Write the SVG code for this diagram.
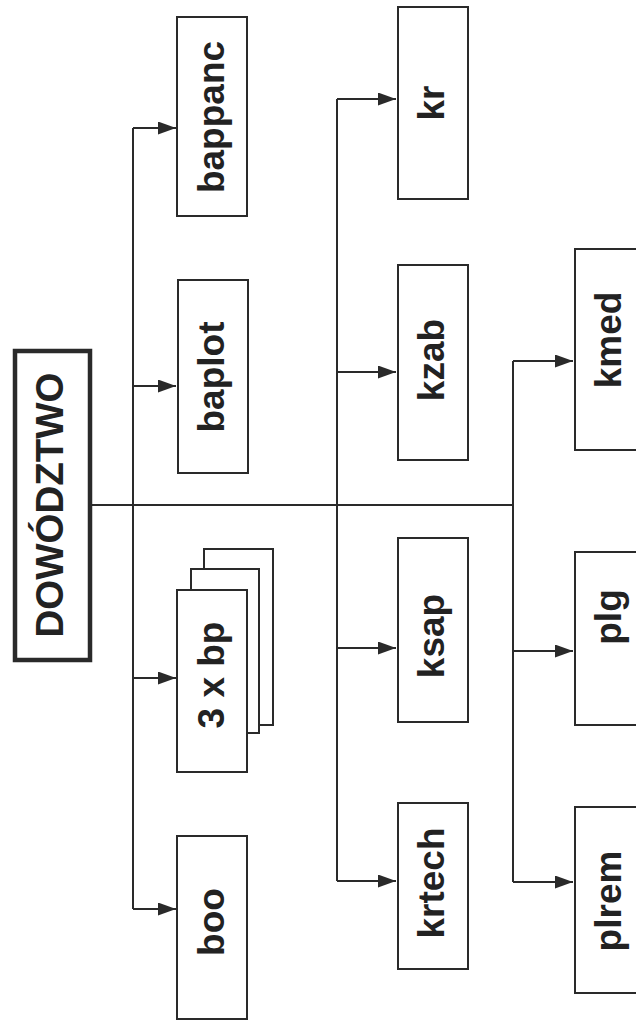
<svg xmlns="http://www.w3.org/2000/svg" width="636" height="1023" viewBox="0 0 636 1023">
<style>
.box{fill:#fff;stroke:#2a2a2a;stroke-width:2}
.main{fill:#fff;stroke:#2a2a2a;stroke-width:4.5}
.ln{fill:none;stroke:#2a2a2a;stroke-width:2}
.t{font-family:"Liberation Sans",Arial,sans-serif;font-weight:bold;font-size:37px;fill:#222;text-anchor:middle}
.tm{font-family:"Liberation Sans",Arial,sans-serif;font-weight:bold;font-size:39px;fill:#222;text-anchor:middle}
</style>
<defs>
<marker id="ah" markerWidth="18" markerHeight="13" refX="18" refY="6.5" orient="auto" markerUnits="userSpaceOnUse">
<path d="M0,0 L18,6.5 L0,13 Z" fill="#2a2a2a"/>
</marker>
</defs>
<rect width="636" height="1023" fill="#fff"/>
<g id="connectors">
<path class="ln" d="M91,505 H513"/>
<path class="ln" d="M133,128 V909"/>
<path class="ln" d="M337,99 V881"/>
<path class="ln" d="M513,361 V882"/>
<path class="ln" marker-end="url(#ah)" d="M133,128 H176"/>
<path class="ln" marker-end="url(#ah)" d="M133,386 H176"/>
<path class="ln" marker-end="url(#ah)" d="M133,678 H176"/>
<path class="ln" marker-end="url(#ah)" d="M133,909 H176"/>
<path class="ln" marker-end="url(#ah)" d="M337,99 H396"/>
<path class="ln" marker-end="url(#ah)" d="M337,372 H396"/>
<path class="ln" marker-end="url(#ah)" d="M337,648 H396"/>
<path class="ln" marker-end="url(#ah)" d="M337,881 H396"/>
<path class="ln" marker-end="url(#ah)" d="M513,361 H573"/>
<path class="ln" marker-end="url(#ah)" d="M513,651 H573"/>
<path class="ln" marker-end="url(#ah)" d="M513,882 H573"/>
</g>
<g id="dowodztwo">
<rect class="main" x="15" y="351" width="75" height="309"/>
<text class="tm" transform="translate(63,505) rotate(-90)" textLength="265" lengthAdjust="spacingAndGlyphs">DOWÓDZTWO</text>
</g>
<g id="bappanc">
<rect class="box" x="177" y="17" width="70" height="199"/>
<text class="t" transform="translate(224,117) rotate(-90)">bappanc</text>
</g>
<g id="baplot">
<rect class="box" x="178" y="280" width="70" height="193"/>
<text class="t" transform="translate(224,377) rotate(-90)">baplot</text>
</g>
<g id="bp3">
<rect class="box" x="204" y="549" width="69" height="176"/>
<rect class="box" x="191" y="569" width="68" height="164"/>
<rect class="box" x="177" y="590" width="70" height="182"/>
<text class="t" transform="translate(224,675) rotate(-90)">3 x bp</text>
</g>
<g id="boo">
<rect class="box" x="177" y="836" width="70" height="183"/>
<text class="t" transform="translate(224,922) rotate(-90)">boo</text>
</g>
<g id="kr">
<rect class="box" x="398" y="7" width="70" height="192"/>
<text class="t" transform="translate(444,103) rotate(-90)">kr</text>
</g>
<g id="kzab">
<rect class="box" x="398" y="265" width="70" height="195"/>
<text class="t" transform="translate(444,360) rotate(-90)">kzab</text>
</g>
<g id="ksap">
<rect class="box" x="398" y="538" width="70" height="184"/>
<text class="t" transform="translate(444,636) rotate(-90)">ksap</text>
</g>
<g id="krtech">
<rect class="box" x="398" y="803" width="70" height="166"/>
<text class="t" transform="translate(444,883) rotate(-90)">krtech</text>
</g>
<g id="kmed">
<rect class="box" x="575" y="249" width="70" height="201"/>
<text class="t" transform="translate(621,340) rotate(-90)">kmed</text>
</g>
<g id="plg">
<rect class="box" x="575" y="552" width="70" height="173"/>
<text class="t" transform="translate(621,617) rotate(-90)">plg</text>
</g>
<g id="plrem">
<rect class="box" x="575" y="807" width="70" height="186"/>
<text class="t" transform="translate(621,901) rotate(-90)">plrem</text>
</g>
</svg>
